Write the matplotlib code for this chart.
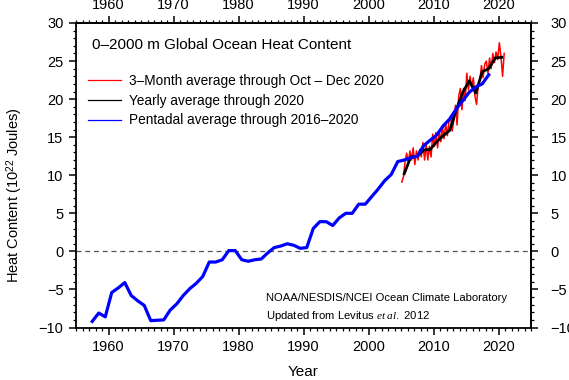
import matplotlib
matplotlib.use("Agg")
import matplotlib.pyplot as plt
from matplotlib.lines import Line2D
from matplotlib.ticker import MultipleLocator
import numpy as np

# pentadal average (centred years)
pentad_years = np.arange(1957, 2019) + 0.5
pentad_vals = [
    -9.2, -8.1, -8.6, -5.4, -4.8, -4.1, -5.8, -6.5, -7.1, -9.1,
    -9.05, -9.0, -7.7, -6.9, -5.8, -4.9, -4.2, -3.3, -1.4, -1.4,
    -1.1, 0.1, 0.1, -1.1, -1.3, -1.1, -1.0, -0.2, 0.5, 0.7,
    1.0, 0.8, 0.4, 0.5, 3.0, 3.9, 3.9, 3.4, 4.4, 5.0,
    5.0, 6.2, 6.2, 7.2, 8.2, 9.3, 10.1, 11.8, 12.0, 12.3,
    12.5, 13.9, 14.6, 15.3, 16.5, 17.4, 18.7, 19.8, 20.9, 21.6,
    22.0, 23.2,
]

# yearly average
yearly_years = np.arange(2005, 2021) + 0.5
yearly_vals = [
    10.2, 12.4, 12.5, 13.3, 13.4, 14.4, 15.2, 15.9, 18.6, 20.9,
    22.4, 20.8, 23.6, 24.0, 25.4, 25.5,
]

# 3-month average
quarter_years = 2005.125 + 0.25 * np.arange(64)
quarter_vals = [
    9.1, 9.8, 11.8, 12.9,
    11.6, 13.2, 12.0, 13.6,
    11.4, 13.2, 12.0, 13.4,
    12.4, 14.3, 12.0, 14.0,
    12.0, 13.8, 12.4, 15.4,
    13.8, 15.6, 13.6, 15.8,
    14.4, 16.4, 14.8, 16.8,
    15.2, 17.0, 17.8, 15.8,
    17.2, 19.2, 16.6, 20.4,
    21.4, 18.6, 21.4, 19.8,
    23.4, 21.2, 23.0, 21.6,
    22.8, 20.4, 19.3, 21.8,
    22.4, 24.4, 22.8, 24.6,
    25.0, 23.4, 25.4, 24.0,
    26.0, 24.8, 26.2, 25.2,
    27.4, 25.6, 23.0, 26.0,
]

plt.rcParams.update({
    "font.family": "Liberation Sans",
    "font.size": 10,
    "mathtext.fontset": "custom",
    "mathtext.rm": "Liberation Sans",
    "mathtext.it": "Liberation Serif:italic",
    "mathtext.bf": "Liberation Sans:bold",
    "axes.linewidth": 1.3,
})

fig = plt.figure(figsize=(5.69, 3.80), dpi=100)
ax = fig.add_axes([76 / 569, 1 - 327.5 / 380, 455 / 569, 304.5 / 380])

ax.axhline(0, color="#555555", linestyle=(0, (4, 3)), linewidth=0.9, zorder=1)
ax.plot(quarter_years, quarter_vals, color="#ff0000", linewidth=1.1, zorder=2)
ax.plot(yearly_years, yearly_vals, color="black", linewidth=2.0, zorder=3)
ax.plot(pentad_years, pentad_vals, color="#0000ff", linewidth=2.3, zorder=4)

ax.set_xlim(1955, 2025)
ax.set_ylim(-10, 30)


def _ticks(axis_obj, major, minor):
    axis_obj.set_major_locator(MultipleLocator(major))
    axis_obj.set_minor_locator(MultipleLocator(minor))


_ticks(ax.xaxis, 10, 1)
_ticks(ax.yaxis, 5, 1)
ax.tick_params(which="major", direction="out", length=5, width=1.1, labelsize=10.5, pad=4)
ax.tick_params(which="minor", direction="out", length=2.5, width=0.9)

top = ax.secondary_xaxis("top")
_ticks(top.xaxis, 10, 1)
top.tick_params(which="major", direction="out", length=5, width=1.1, labelsize=10.5, pad=3)
top.tick_params(which="minor", direction="out", length=2.5, width=0.9)

right = ax.secondary_yaxis("right")
_ticks(right.yaxis, 5, 1)
right.tick_params(which="major", direction="out", length=5, width=1.1, labelsize=10.5, pad=9)
right.tick_params(which="minor", direction="out", length=2.5, width=0.9)

ax.set_xlabel("Year", fontsize=11, labelpad=8)
ax.set_ylabel("Heat Content (10$^{22}$ Joules)", fontsize=10.5)
ax.yaxis.set_label_coords(-0.112, 0.435)

ax.text(0.035, 0.928, "0\u20132000 m Global Ocean Heat Content", transform=ax.transAxes,
        fontsize=11, ha="left", va="center")

handles = [
    Line2D([], [], color="#ff0000", linewidth=0.9),
    Line2D([], [], color="black", linewidth=0.9),
    Line2D([], [], color="#0000ff", linewidth=0.9),
]
labels = [
    "3\u2013Month average through Oct \u2013 Dec 2020",
    "Yearly average through 2020",
    "Pentadal average through 2016\u20132020",
]
ax.legend(handles, labels, loc="upper left", bbox_to_anchor=(0.012, 0.855), frameon=False,
          fontsize=9.8, handlelength=2.4, handletextpad=0.6, labelspacing=0.42,
          borderaxespad=0.0, borderpad=0.5)

ax.text(0.4176, 0.097, "NOAA/NESDIS/NCEI Ocean Climate Laboratory", transform=ax.transAxes,
        fontsize=8.1, ha="left", va="center")
ax.text(0.4176, 0.038, r"Updated from Levitus $\mathit{et\ al.}$ 2012", transform=ax.transAxes,
        fontsize=8.1, ha="left", va="center")

fig.savefig("out.png", dpi=100)
